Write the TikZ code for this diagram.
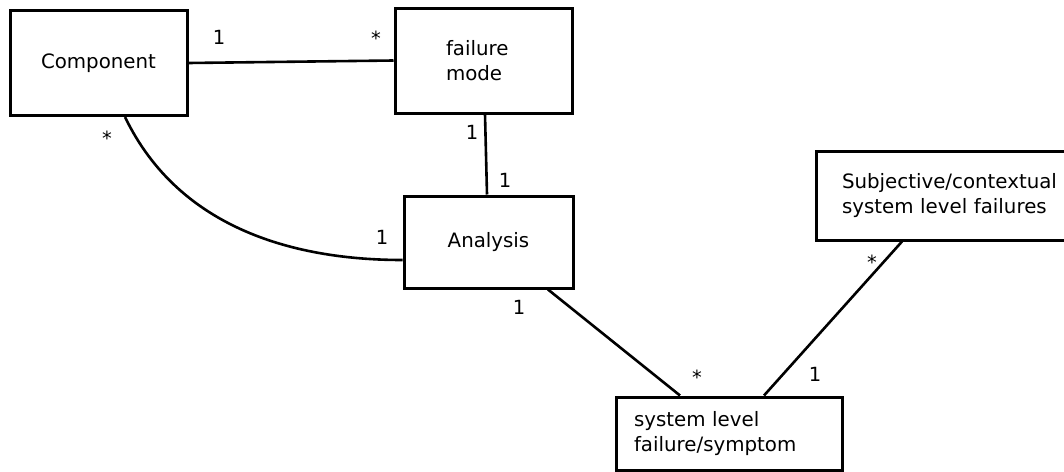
\documentclass[tikz,border=0pt]{standalone}
\usepackage{fontspec}
\setmainfont{DejaVu Sans}
\begin{document}
\begin{tikzpicture}[x=1pt,y=-1pt,
  box/.style={draw, line width=3pt, rectangle, inner ysep=0pt,
    font=\fontsize{19.8}{24.5}\selectfont},
  link/.style={line width=2.6pt},
  mult/.style={font=\fontsize{19.5}{22}\selectfont, inner sep=0pt}]
  \useasboundingbox (0,0) rectangle (1064,471);
  \clip (0,0) rectangle (1064,471);

  % classes
  \node[box, minimum width=177pt, minimum height=105pt, align=center] (comp) at (98.5,63) {Component};
  \node[box, minimum height=105pt, inner xsep=51pt, text width=75pt, align=left] (fm) at (483.5,60.5) {failure\\mode};
  \node[box, minimum width=169pt, minimum height=92pt, align=center] (an) at (488.5,242) {Analysis};
  \node[box, minimum height=89pt, inner xsep=26pt, text width=222pt, align=left] (subj) at (953,195.5) {Subjective/contextual\\system level failures};
  \node[box, minimum height=73pt, inner xsep=18pt, text width=190pt, align=left] (sys) at (729,433.5) {system level\\failure/symptom};

  % associations
  \draw[link] (comp.east) -- (fm.west);
  \draw[link] ([xshift=1.5pt]fm.south) -- ([xshift=-1.5pt]an.north);
  \draw[link] ([xshift=26.5pt]comp.south) .. controls +(55,114) and +(-104,0) .. ([yshift=-18pt]an.west);
  \draw[link] ([xshift=59.5pt]an.south) -- ([xshift=-49pt]sys.north);
  \draw[link] ([xshift=-51pt]subj.south) -- ([xshift=35pt]sys.north);

  % multiplicities
  \node[mult] (m1) at (219,37) {1};
  \node[mult] (m2) at (376,38) {*};
  \node[mult] (m3) at (472,132) {1};
  \node[mult] (m4) at (505,180) {1};
  \node[mult] (m5) at (107,138) {*};
  \node[mult] (m6) at (382,237) {1};
  \node[mult] (m7) at (519,307) {1};
  \node[mult] (m8) at (697,377) {*};
  \node[mult] (m9) at (872,262) {*};
  \node[mult] (m10) at (815,374) {1};
\end{tikzpicture}
\end{document}
